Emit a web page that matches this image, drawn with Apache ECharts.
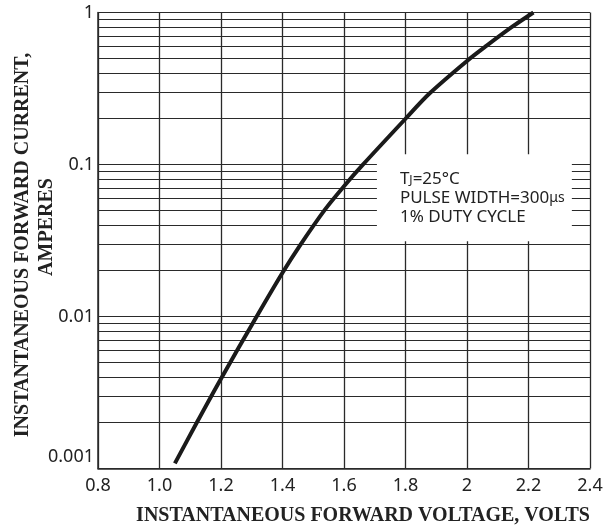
<!DOCTYPE html>
<html><head><meta charset="utf-8">
<script src="https://cdn.jsdelivr.net/npm/echarts@6/dist/echarts.min.js"></script>
<style>html,body{margin:0;padding:0;background:#fff}#c{width:607px;height:530px}</style>
</head><body><div id="c"></div>
<script>
const voltage = [1.05, 1.121, 1.20, 1.316, 1.40, 1.457, 1.538, 1.60, 1.66, 1.80, 1.877, 2.00, 2.064, 2.145, 2.216];
const current = [0.00108, 0.002, 0.0039, 0.010, 0.0194, 0.0294, 0.0505, 0.072, 0.099, 0.20, 0.292, 0.48, 0.605, 0.80, 1.0];
const xTickLabels = ['0.8', '1.0', '1.2', '1.4', '1.6', '1.8', '2', '2.2', '2.4'];
const yTickLabels = ['0.001', '0.01', '0.1', '1'];
const hGrid = [0.001,0.002,0.003,0.004,0.005,0.006,0.007,0.008,0.009,
               0.01,0.02,0.03,0.04,0.05,0.06,0.07,0.08,0.09,
               0.1,0.2,0.3,0.4,0.5,0.6,0.7,0.8,0.9,1];
const noteBox = {x0: 1.707, x1: 2.341, yTop: 0.1166, yBottom: 0.0313};
const yTitle1 = 'INSTANTANEOUS FORWARD CURRENT,';
const yTitle2 = 'AMPERES';
const xTitle = 'INSTANTANEOUS FORWARD VOLTAGE, VOLTS';

const gridColor = '#2a2a2a';
const chart = echarts.init(document.getElementById('c'));
chart.setOption({
  animation: false,
  backgroundColor: '#fff',
  grid: {left: 98, right: 17, top: 12.5, bottom: 61.5, containLabel: false},
  xAxis: {
    type: 'value', min: 0.8, max: 2.4, interval: 0.2,
    axisLine: {show: true, onZero: false, lineStyle: {color: gridColor, width: 1.5}},
    axisTick: {show: false},
    splitLine: {show: true, lineStyle: {color: gridColor, width: 1.3}},
    axisLabel: {
      margin: 8, fontSize: 18, color: '#222', fontFamily: 'Noto Sans',
      formatter: v => xTickLabels[Math.round((v - 0.8) / 0.2)]
    }
  },
  yAxis: {
    type: 'log', logBase: 10, min: 0.001, max: 1,
    axisLine: {show: true, onZero: false, lineStyle: {color: gridColor, width: 1.5}},
    axisTick: {show: false},
    splitLine: {show: false},
    axisLabel: {
      margin: 4, fontSize: 18, color: '#222', fontFamily: 'Noto Sans',
      formatter: v => {
        const i = Math.round(Math.log10(v)) + 3;
        return i === 0 ? '{low|' + yTickLabels[0] + '}' : yTickLabels[i];
      },
      rich: {low: {fontSize: 18, color: '#222', fontFamily: 'Noto Sans', padding: [0, 0, 24, 0]}}
    }
  },
  graphic: [
    {type: 'text', x: 23, y: 245, rotation: Math.PI / 2,
     style: {text: yTitle1, font: 'bold 20px "Liberation Serif"', fill: '#222', align: 'center', verticalAlign: 'middle'}},
    {type: 'text', x: 47, y: 227, rotation: Math.PI / 2,
     style: {text: yTitle2, font: 'bold 20px "Liberation Serif"', fill: '#222', align: 'center', verticalAlign: 'middle'}},
    {type: 'text', x: 363, y: 516,
     style: {text: xTitle, font: 'bold 20px "Liberation Serif"', fill: '#222', align: 'center', verticalAlign: 'middle'}}
  ],
  series: [
    {
      type: 'line', data: [], z: 1, silent: true,
      markLine: {
        silent: true, symbol: 'none', animation: false, z: 2, precision: 4,
        label: {show: false},
        lineStyle: {color: gridColor, width: 1.2, type: 'solid'},
        data: hGrid.map(v => ({yAxis: v}))
      }
    },
    {
      type: 'line', data: [], z: 3, silent: true,
      markArea: {
        silent: true, z: 10,
        itemStyle: {color: '#fff'},
        label: {
          show: true, position: 'insideLeft', distance: 23,
          formatter: '{a|T}{s|J}{a|=25°C}\n{a|PULSE WIDTH=300}{u|μs}\n{a|1% DUTY CYCLE}',
          rich: {
            a: {fontSize: 17, fontFamily: 'Noto Sans', color: '#222', lineHeight: 19},
            s: {fontSize: 12, fontFamily: 'Noto Sans', color: '#222', lineHeight: 19, padding: [4, 0, 0, 0]},
            u: {fontSize: 14, fontFamily: 'Noto Sans', color: '#222', lineHeight: 19}
          }
        },
        data: [[{xAxis: noteBox.x0, yAxis: noteBox.yTop}, {xAxis: noteBox.x1, yAxis: noteBox.yBottom}]]
      }
    },
    {
      type: 'line', z: 20, smooth: 0.3, showSymbol: false, silent: true,
      lineStyle: {color: '#1a1a1a', width: 4},
      data: voltage.map((v, i) => [v, current[i]])
    }
  ]
});
</script></body></html>
